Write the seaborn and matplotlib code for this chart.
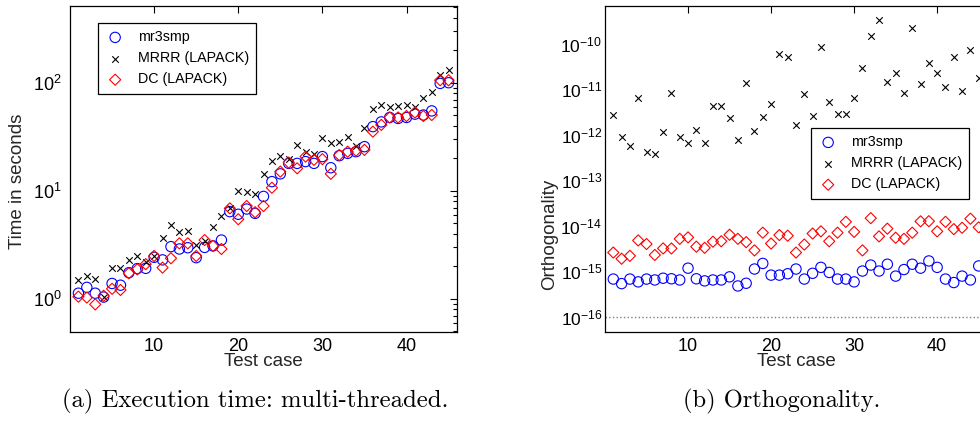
import matplotlib
matplotlib.use("Agg")
import matplotlib.pyplot as plt
import numpy as np
import seaborn as sns
from matplotlib.ticker import FixedLocator, LogLocator, NullFormatter, LogFormatterSciNotation

# test cases 1..45
case = list(range(1, 46))

# (a) execution time in seconds
time_mr3smp = [1.13, 1.28, 1.13, 1.04, 1.39, 1.34, 1.75, 1.91, 1.92, 2.43,
               2.3, 3.05, 2.9, 2.98, 2.41, 3.0, 3.1, 3.51, 6.43, 6.08,
               6.8, 6.2, 8.9, 12.2, 14.4, 18.0, 18.0, 18.7, 18.0, 20.8,
               16.4, 21.2, 22.3, 23.1, 25.7, 39.4, 43.6, 47.9, 46.9, 47.9,
               51.4, 50.5, 55.1, 99.0, 100.5]
time_mrrr = [1.5, 1.63, 1.54, 1.05, 1.92, 1.92, 2.3, 2.52, 2.2, 2.5,
             3.7, 4.84, 4.14, 4.26, 3.14, 3.46, 4.64, 5.87, 6.9, 10.0,
             9.87, 9.4, 14.4, 18.9, 21.2, 19.7, 26.6, 23.1, 22.0, 31.1,
             27.9, 28.6, 31.3, 26.2, 38.1, 57.5, 62.8, 60.3, 61.3, 62.8,
             60.3, 73.1, 83.0, 118.5, 131.7]
time_dc = [1.05, 1.03, 0.89, 1.07, 1.24, 1.21, 1.73, 1.88, 2.1, 2.5,
           1.95, 2.38, 3.27, 3.27, 2.5, 3.51, 3.1, 2.9, 6.9, 5.47,
           7.25, 6.35, 7.25, 10.7, 15.1, 18.3, 16.2, 20.8, 19.4, 19.7,
           14.4, 21.5, 23.1, 23.6, 24.0, 35.4, 40.9, 47.9, 47.9, 49.4,
           53.3, 49.4, 50.5, 106.0, 106.0]

# (b) orthogonality
orth_mr3smp = [6.8e-16, 5.4e-16, 6.8e-16, 5.9e-16, 6.8e-16, 6.5e-16, 7.1e-16, 6.9e-16, 6.5e-16, 1.18e-15,
               6.9e-16, 6.2e-16, 6.5e-16, 6.5e-16, 7.6e-16, 4.8e-16, 5.5e-16, 1.13e-15, 1.5e-15, 8.3e-16,
               8.3e-16, 8.9e-16, 1.13e-15, 6.8e-16, 9.1e-16, 1.23e-15, 9.5e-16, 6.8e-16, 6.8e-16, 5.9e-16,
               1.02e-15, 1.38e-15, 1.02e-15, 1.44e-15, 7.9e-16, 1.1e-15, 1.44e-15, 1.18e-15, 1.7e-15, 1.23e-15,
               6.8e-16, 5.7e-16, 7.9e-16, 6.5e-16, 1.32e-15]
orth_mrrr = [2.76e-12, 8.9e-13, 5.8e-13, 6.3e-12, 4.1e-13, 3.8e-13, 1.18e-12, 8.1e-12, 9.1e-13, 6.5e-13,
             1.3e-12, 6.6e-13, 4.4e-12, 4.4e-12, 2.3e-12, 7.8e-13, 1.39e-11, 1.2e-12, 2.5e-12, 4.7e-12,
             6.1e-11, 5.0e-11, 1.66e-12, 7.7e-12, 2.6e-12, 8.5e-11, 5.4e-12, 2.9e-12, 2.9e-12, 6.6e-12,
             2.9e-11, 1.5e-10, 3.3e-10, 1.42e-11, 2.3e-11, 8.3e-12, 2.2e-10, 1.31e-11, 3.7e-11, 2.3e-11,
             1.1e-11, 5.2e-11, 9.0e-12, 7.3e-11, 1.74e-11]
orth_dc = [2.6e-15, 1.9e-15, 2.2e-15, 4.8e-15, 4.0e-15, 2.3e-15, 3.2e-15, 3.2e-15, 5.2e-15, 5.6e-15,
           3.5e-15, 3.3e-15, 4.5e-15, 4.6e-15, 6.4e-15, 5.2e-15, 4.4e-15, 2.9e-15, 7.1e-15, 4.1e-15,
           6.3e-15, 6.1e-15, 2.6e-15, 3.9e-15, 6.8e-15, 7.6e-15, 4.6e-15, 7.1e-15, 1.23e-14, 7.4e-15,
           2.9e-15, 1.48e-14, 5.9e-15, 8.7e-15, 5.5e-15, 5.2e-15, 7.1e-15, 1.26e-14, 1.27e-14, 7.6e-15,
           1.23e-14, 8.5e-15, 9.1e-15, 1.44e-14, 9.3e-15]

eps = 1e-16

labels = ["mr3smp", "MRRR (LAPACK)", "DC (LAPACK)"]
time_ticks = [1, 10, 100]
orth_ticks = [1e-16, 1e-15, 1e-14, 1e-13, 1e-12, 1e-11, 1e-10]

sns.set_theme(style="white")
plt.rcParams.update({
    "font.family": ["Liberation Sans", "DejaVu Sans"],
    "mathtext.fontset": "custom",
    "mathtext.rm": "Liberation Sans",
    "mathtext.it": "Liberation Sans:italic",
    "mathtext.bf": "Liberation Sans:bold",
    "axes.edgecolor": "black",
    "axes.linewidth": 0.9,
    "text.color": "black",
    "xtick.color": "black",
    "ytick.color": "black",
})

TICK_FS = 13
LABEL_FS = 13.5
LEG_FS = 10.3

fig = plt.figure(figsize=(9.8, 4.21), dpi=100)
ax1 = fig.add_axes([70 / 980, 1 - 332 / 421, 387 / 980, 326 / 421])
ax2 = fig.add_axes([605 / 980, 1 - 332 / 421, 382 / 980, 326 / 421])


def draw_series(ax, ys):
    sns.scatterplot(x=case, y=ys[0], ax=ax, marker="o", s=55,
                    facecolor="none", edgecolor="blue", linewidth=0.8,
                    label=labels[0])
    sns.scatterplot(x=case, y=ys[1], ax=ax, marker="x", s=22,
                    color="black", linewidth=0.8, label=labels[1])
    sns.scatterplot(x=case, y=ys[2], ax=ax, marker="D", s=32,
                    facecolor="none", edgecolor="red", linewidth=0.8,
                    label=labels[2])


def style_axes(ax, ylim, yticks, ylabel, ylab_pos, ypad, ytick_fs):
    ax.set_yscale("log")
    ax.set_xlim(0, 46)
    ax.set_ylim(*ylim)
    ax.xaxis.set_major_locator(FixedLocator([10, 20, 30, 40]))
    ax.yaxis.set_major_locator(FixedLocator(yticks))
    ax.yaxis.set_major_formatter(LogFormatterSciNotation())
    ax.yaxis.set_minor_locator(LogLocator(base=10, subs=np.arange(2, 10), numticks=50))
    ax.yaxis.set_minor_formatter(NullFormatter())
    ax.tick_params(which="both", direction="in", top=True, right=True,
                   width=0.8, labelsize=TICK_FS)
    ax.tick_params(which="major", length=5)
    ax.tick_params(which="minor", length=3)
    ax.tick_params(axis="x", pad=4)
    ax.tick_params(axis="y", pad=ypad, labelsize=ytick_fs)
    ax.set_xlabel("Test case", fontsize=LABEL_FS, labelpad=-1)
    ax.set_ylabel(ylabel, fontsize=LABEL_FS)
    ax.yaxis.set_label_coords(*ylab_pos)
    for sp in ax.spines.values():
        sp.set_visible(True)
        sp.set_color("black")


draw_series(ax1, [time_mr3smp, time_mrrr, time_dc])
style_axes(ax1, (0.494, 516), time_ticks, "Time in seconds", (-0.114, 0.463), 6, TICK_FS)

ax2.axhline(eps, color="gray", linestyle=":", linewidth=1)
draw_series(ax2, [orth_mr3smp, orth_mrrr, orth_dc])
style_axes(ax2, (10 ** -16.33, 10 ** -9.17), orth_ticks, "Orthogonality", (-0.124, 0.30), 2, 12.5)

leg_kw = dict(loc="upper left", bbox_transform=fig.transFigure, fontsize=LEG_FS,
              frameon=True, fancybox=False, framealpha=1, edgecolor="black",
              borderpad=0.5, labelspacing=0.5, handlelength=1.4,
              handletextpad=0.9, borderaxespad=0)
lg1 = ax1.legend(bbox_to_anchor=(98 / 980, 1 - 23 / 421), **leg_kw)
lg2 = ax2.legend(bbox_to_anchor=(811 / 980, 1 - 128 / 421), **leg_kw)
for lg in (lg1, lg2):
    lg.get_frame().set_linewidth(0.9)

fig.text(255 / 980, 1 - 401 / 421, "(a) Execution time: multi-threaded.",
         ha="center", va="center", family="cmr10", fontsize=17.8)
fig.text(782 / 980, 1 - 401 / 421, "(b) Orthogonality.",
         ha="center", va="center", family="cmr10", fontsize=17.6)

fig.savefig("out.png", dpi=100)
